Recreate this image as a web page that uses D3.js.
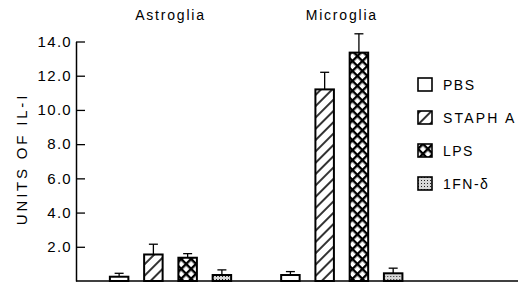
<script src='https://d3js.org/d3.v7.min.js'></script>
<svg id='chart' style='background-color:white;'></svg>
<script>
var groups=['Astroglia','Microglia'],
    cats=['PBS','STAPH A','LPS','IFN'],
    legendLabels=['PBS','STAPH A','LPS','1FN-\u03b4'],
    vals={'Astroglia':[0.25,1.55,1.36,0.35],'Microglia':[0.35,11.2,13.35,0.45]},
    errs={'Astroglia':[0.45,2.15,1.6,0.65],'Microglia':[0.55,12.2,14.45,0.75]},
    yTicks=[2,4,6,8,10,12,14];
var W=518,H=283,base=281,ax=76;
var svg=d3.select('#chart').attr('width',W).attr('height',H)
          .style('display','block');
d3.select('body').style('margin','0');
var font='Liberation Sans, Arial, sans-serif';

// fill patterns
var defs=svg.append('defs');
var p1=defs.append('pattern').attr('id','hatch').attr('patternUnits','userSpaceOnUse')
   .attr('width',8).attr('height',8).attr('patternTransform','rotate(45)');
p1.append('rect').attr('width',8).attr('height',8).attr('fill','white');
p1.append('line').attr('x1',1).attr('x2',1).attr('y1',0).attr('y2',8)
  .attr('stroke','black').attr('stroke-width',1.6);
var p2=defs.append('pattern').attr('id','cross').attr('patternUnits','userSpaceOnUse')
   .attr('width',7).attr('height',7).attr('patternTransform','rotate(45)');
p2.append('rect').attr('width',7).attr('height',7).attr('fill','white');
p2.append('line').attr('x1',1).attr('x2',1).attr('y1',0).attr('y2',7)
  .attr('stroke','black').attr('stroke-width',2.8);
p2.append('line').attr('x1',0).attr('x2',7).attr('y1',1).attr('y2',1)
  .attr('stroke','black').attr('stroke-width',2.8);
var p3=defs.append('pattern').attr('id','dots').attr('patternUnits','userSpaceOnUse')
   .attr('width',3).attr('height',3);
p3.append('rect').attr('width',3).attr('height',3).attr('fill','#d8d8d8');
p3.append('rect').attr('width',1).attr('height',1).attr('fill','#222');
var fills={'PBS':'white','STAPH A':'url(#hatch)','LPS':'url(#cross)','IFN':'url(#dots)'};

var x0=d3.scaleBand().domain(groups).range([102,410.3]).paddingInner(0.2).paddingOuter(0),
    x1=d3.scaleBand().domain(cats).range([0,x0.bandwidth()]).paddingInner(0.46).paddingOuter(0.23),
    y=d3.scaleLinear().domain([0,14]).range([base,41.5]);

// axis
var yAxis=d3.axisLeft(y).tickValues(yTicks).tickFormat(d3.format('.1f'))
            .tickSizeInner(-9).tickSizeOuter(0).tickPadding(4);
var ga=svg.append('g').attr('transform','translate('+ax+',0)').call(yAxis);
ga.select('.domain').attr('stroke-width',1.5);
ga.selectAll('line').attr('stroke-width',1.3);
ga.selectAll('text').style('font-family',font).style('font-size','15px')
  .style('letter-spacing','1.3px').attr('fill','black');
svg.append('line').attr('x1',ax).attr('x2',W).attr('y1',base).attr('y2',base)
   .attr('stroke','black').attr('stroke-width',1.6);

svg.append('text').attr('transform','translate(27,159) rotate(-90)')
   .attr('text-anchor','middle').style('font-family',font).style('font-size','15px')
   .style('letter-spacing','2.8px').text('UNITS OF IL-I');

// groups
groups.forEach(function(g){
  var gx=x0(g);
  svg.append('text').attr('x',gx+x0.bandwidth()/2).attr('y',20).attr('text-anchor','middle')
     .style('font-family',font).style('font-size','14px').style('letter-spacing','1.8px').text(g);
  var gg=svg.append('g').attr('transform','translate('+gx+',0)');
  cats.forEach(function(c,i){
    var bx=x1(c),bw=x1.bandwidth(),v=vals[g][i],e=errs[g][i],cx=bx+bw/2;
    gg.append('line').attr('x1',cx).attr('x2',cx).attr('y1',y(v)).attr('y2',y(e))
      .attr('stroke','black').attr('stroke-width',1.3);
    gg.append('line').attr('x1',cx-4.5).attr('x2',cx+4.5).attr('y1',y(e)).attr('y2',y(e))
      .attr('stroke','black').attr('stroke-width',1.3);
    gg.append('rect').attr('x',bx).attr('y',y(v)).attr('width',bw).attr('height',base-y(v))
      .attr('fill',fills[c]).attr('stroke','black').attr('stroke-width',2);
  });
});

// legend
var lg=svg.append('g').attr('transform','translate(418,78)');
cats.forEach(function(c,i){
  lg.append('rect').attr('x',0).attr('y',i*33).attr('width',14).attr('height',13)
    .attr('fill',fills[c]).attr('stroke','black').attr('stroke-width',1.6);
  lg.append('text').attr('x',25).attr('y',i*33+12).style('font-family',font)
    .style('font-size','14px').style('letter-spacing',i==1?'2.2px':'1.5px').text(legendLabels[i]);
});
</script>
